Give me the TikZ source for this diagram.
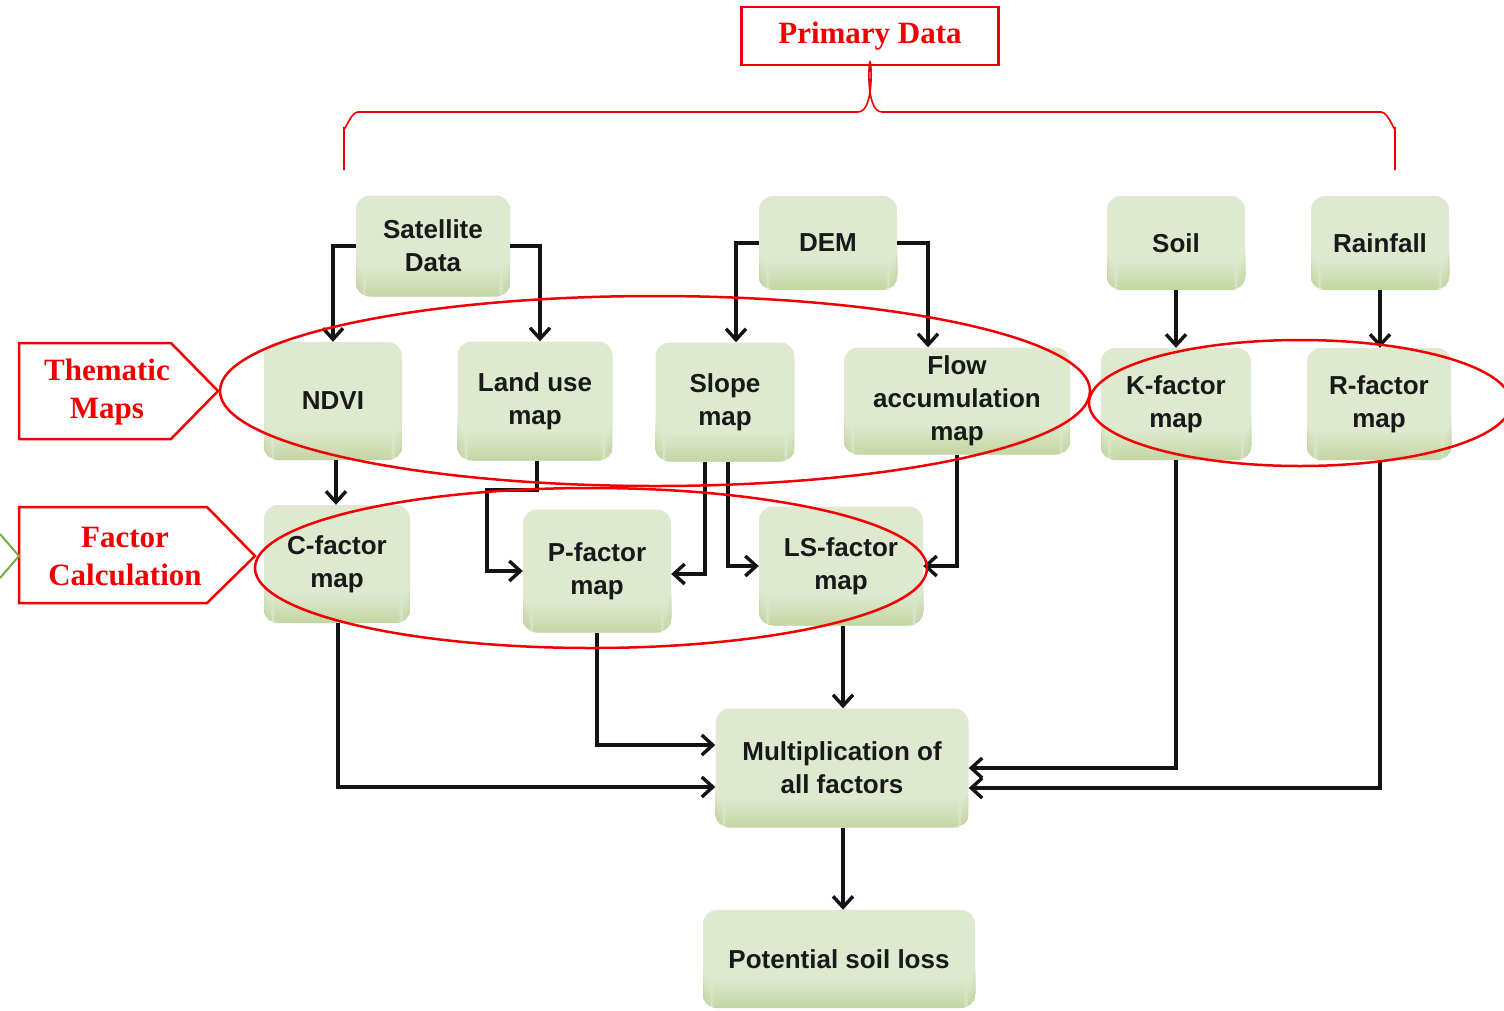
\documentclass[tikz,border=0pt]{standalone}
\usepackage{fontspec}
\setmainfont{Liberation Sans}
\newfontfamily\labfont{Liberation Serif}
\usetikzlibrary{arrows.meta}
\definecolor{boxtop}{RGB}{222,233,207}
\definecolor{boxbot}{RGB}{196,214,164}
\definecolor{lblred}{RGB}{240,0,0}
\definecolor{chevgreen}{RGB}{112,173,71}
\tikzset{
  gbox/.style={rounded corners=14pt, fill=boxtop, inner sep=0pt, align=center,
    font=\fontsize{26}{33}\selectfont\bfseries, text=black!90,
    path picture={\foreach \i [evaluate=\i as \p using int(\i*7)] in {0,...,14}{
      \fill[boxbot!\p!boxtop]
      ([yshift=30pt-2*\i pt]path picture bounding box.south west) rectangle
      ([yshift=27.5pt-2*\i pt]path picture bounding box.south east);}}},
  arr/.style={line width=3.6pt, draw=black!92, -{Straight Barb[length=11pt,width=20pt,line width=3.4pt]}},
  redline/.style={draw=lblred, line width=2.5pt},
  redtext/.style={text=lblred, font=\labfont\fontsize{31}{38}\selectfont\bfseries, align=center, inner sep=0pt}
}
\begin{document}
\begin{tikzpicture}[x=1pt,y=-1pt]
\clip (0,0) rectangle (1504,1010);
\fill[white] (0,0) rectangle (1504,1010);
% boxes
\node[gbox, minimum width=154pt, minimum height=101pt] (sat) at (433,246) {Satellite\\Data};
\node[gbox, minimum width=138pt, minimum height=94pt] (dem) at (828,243) {DEM};
\node[gbox, minimum width=138pt, minimum height=94pt] (soil) at (1176,243) {Soil};
\node[gbox, minimum width=138pt, minimum height=94pt] (rain) at (1380,243) {Rainfall};
\node[gbox, minimum width=138pt, minimum height=118pt] (ndvi) at (333,401) {NDVI};
\node[gbox, minimum width=155pt, minimum height=119pt] (land) at (535,401) {Land use\\map};
\node[gbox, minimum width=139pt, minimum height=119pt] (slope) at (725,402) {Slope\\map};
\node[gbox, minimum width=226pt, minimum height=107pt] (flow) at (957,401) {Flow\\accumulation\\map};
\node[gbox, minimum width=150pt, minimum height=112pt] (kfac) at (1176,404) {K-factor\\map};
\node[gbox, minimum width=144pt, minimum height=112pt] (rfac) at (1379,404) {R-factor\\map};
\node[gbox, minimum width=146pt, minimum height=118pt] (cfac) at (337,564) {C-factor\\map};
\node[gbox, minimum width=148pt, minimum height=123pt] (pfac) at (597,571) {P-factor\\map};
\node[gbox, minimum width=164pt, minimum height=119pt] (ls) at (841,566) {LS-factor\\map};
\node[gbox, minimum width=253pt, minimum height=119pt] (mult) at (842,768) {Multiplication of\\all factors};
\node[gbox, minimum width=272pt, minimum height=98pt] (pot) at (839,959) {Potential soil loss};
% connectors
\draw[arr] (sat.west) -| (ndvi.north);
\draw[arr] (sat.east) -| ([xshift=5pt]land.north);
\draw[arr] (dem.west) -| ([xshift=11pt]slope.north);
\draw[arr] (dem.east) -| ([xshift=-29pt]flow.north);
\draw[arr] (soil.south) -- (kfac.north);
\draw[arr] (rain.south) -- (rain.south |- rfac.north);
\draw[arr] ([xshift=3pt]ndvi.south) -- ([xshift=3pt]ndvi.south |- cfac.north);
\draw[arr] ([xshift=2pt]land.south) -- ++(0,29) -| ([xshift=-36pt]pfac.west) -- (pfac.west);
\draw[arr] ([xshift=-20pt]slope.south) |- ([yshift=-3pt]pfac.east);
\draw[arr] ([xshift=3pt]slope.south) |- (ls.west);
\draw[arr] (flow.south) |- (ls.east);
\draw[arr] ([xshift=2pt]ls.south) -- ([xshift=2pt]ls.south |- mult.north);
\draw[arr] (pfac.south) |- ([yshift=23pt]mult.west);
\draw[arr] ([xshift=1pt]cfac.south) |- ([yshift=-19pt]mult.west);
\draw[arr] (kfac.south) |- (mult.east);
\draw[arr] ([xshift=1pt]rfac.south) |- ([yshift=-20pt]mult.east);
\draw[arr] ([xshift=1pt]mult.south) -- ([xshift=1pt]mult.south |- pot.north);
% red ellipses
\draw[redline] (655,391) ellipse [x radius=435pt, y radius=95pt];
\draw[redline] (1300,403) ellipse [x radius=211pt, y radius=63pt];
\draw[redline] (591,568) ellipse [x radius=336pt, y radius=80pt];
% primary data
\node[redtext, draw=lblred, line width=2.5pt, minimum width=257pt, minimum height=58pt] (prim) at (870,36) {Primary Data};
\draw[lblred, line width=1.6pt] (344,170) -- (344,127) to[out=-90,in=180] (358,112) -- (858,112)
  to[out=0,in=90] (prim.south) to[out=90,in=180] (882,112) -- (1381,112) to[out=0,in=-90] (1395,127) -- (1395,170);
% thematic maps label
\node[redtext] (them) at (107,392) {Thematic\\Maps};
\draw[redline] (19,343) -- (171,343) -- (218,391) -- (171,439) -- (19,439) -- cycle;
% factor calculation label
\node[redtext] (fact) at (125,557) {Factor\\Calculation};
\draw[redline] (19,507) -- (207,507) -- (255,556) -- (207,603) -- (19,603) -- cycle;
% green chevron
\draw[chevgreen, line width=2pt] (0,534) -- (19,556) -- (0,578);
\end{tikzpicture}
\end{document}
